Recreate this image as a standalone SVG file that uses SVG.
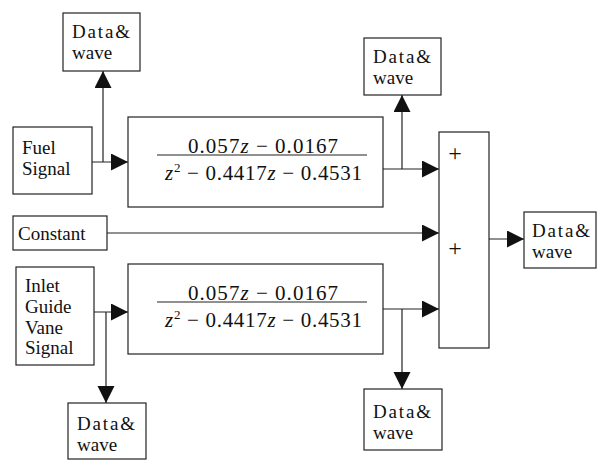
<svg xmlns="http://www.w3.org/2000/svg" width="598" height="460" viewBox="0 0 598 460">
<style>
.box{fill:#fff;stroke:#222;stroke-width:1.2}
.t{font-family:"Liberation Serif","Times New Roman",serif;font-size:19px;fill:#111}
.p{font-family:"Liberation Serif","Times New Roman",serif;font-size:24px;fill:#111;text-anchor:middle}
.f{font-family:"Liberation Serif","Times New Roman",serif;font-size:21px;fill:#111}
.z{font-style:italic}
.ln{fill:none;stroke:#222;stroke-width:1.2}
.fl{stroke:#222;stroke-width:1.2}
</style>
<defs>
<marker id="ah" markerUnits="userSpaceOnUse" markerWidth="18" markerHeight="18" refX="17" refY="8.5" orient="auto">
<path d="M0,0 L17,8.5 L0,17 Z" fill="#111"/>
</marker>
</defs>
<g id="connectors">
<path class="ln" d="M92,162 H128" marker-end="url(#ah)"/>
<path class="ln" d="M103,162 V71" marker-end="url(#ah)"/>
<path class="ln" d="M383,169 H439" marker-end="url(#ah)"/>
<path class="ln" d="M402,169 V95" marker-end="url(#ah)"/>
<path class="ln" d="M107,233 H439" marker-end="url(#ah)"/>
<path class="ln" d="M94,312 H128" marker-end="url(#ah)"/>
<path class="ln" d="M106,312 V403" marker-end="url(#ah)"/>
<path class="ln" d="M383,309 H439" marker-end="url(#ah)"/>
<path class="ln" d="M402,309 V389" marker-end="url(#ah)"/>
<path class="ln" d="M489,239 H524" marker-end="url(#ah)"/>
</g>
<g id="dw1">
<rect class="box" x="63" y="13" width="77" height="58"/>
<text class="t" x="72" y="38" textLength="58" lengthAdjust="spacing">Data&amp;</text>
<text class="t" x="72" y="59">wave</text>
</g>
<g id="fuel">
<rect class="box" x="13" y="127" width="79" height="67"/>
<text class="t" x="22" y="154">Fuel</text>
<text class="t" x="22" y="175">Signal</text>
</g>
<g id="tf1">
<rect class="box" x="128" y="117" width="255" height="90"/>
<text class="f" x="188" y="153" textLength="150" lengthAdjust="spacing">0.057<tspan class="z">z</tspan> − 0.0167</text>
<line class="fl" x1="157" y1="155" x2="367" y2="155"/>
<text class="f" x="165" y="180" textLength="197" lengthAdjust="spacing"><tspan class="z">z</tspan><tspan font-size="13" dy="-8">2</tspan><tspan dy="8"> − 0.4417</tspan><tspan class="z">z</tspan> − 0.4531</text>
</g>
<g id="dw2">
<rect class="box" x="364" y="38" width="77" height="57"/>
<text class="t" x="373" y="63" textLength="58" lengthAdjust="spacing">Data&amp;</text>
<text class="t" x="373" y="84">wave</text>
</g>
<g id="constant">
<rect class="box" x="13" y="216" width="94" height="34"/>
<text class="t" x="18" y="240">Constant</text>
</g>
<g id="sum">
<rect class="box" x="439" y="132" width="50" height="216"/>
<text class="p" x="455" y="161">+</text>
<text class="p" x="455" y="256">+</text>
</g>
<g id="dw3">
<rect class="box" x="524" y="212" width="72" height="56"/>
<text class="t" x="532" y="237" textLength="58" lengthAdjust="spacing">Data&amp;</text>
<text class="t" x="532" y="258">wave</text>
</g>
<g id="igv">
<rect class="box" x="16" y="267" width="78" height="98"/>
<text class="t" x="25" y="292">Inlet</text>
<text class="t" x="25" y="313">Guide</text>
<text class="t" x="25" y="334">Vane</text>
<text class="t" x="25" y="354">Signal</text>
</g>
<g id="tf2">
<rect class="box" x="128" y="264" width="255" height="90"/>
<text class="f" x="188" y="300" textLength="150" lengthAdjust="spacing">0.057<tspan class="z">z</tspan> − 0.0167</text>
<line class="fl" x1="157" y1="302" x2="367" y2="302"/>
<text class="f" x="165" y="327" textLength="197" lengthAdjust="spacing"><tspan class="z">z</tspan><tspan font-size="13" dy="-8">2</tspan><tspan dy="8"> − 0.4417</tspan><tspan class="z">z</tspan> − 0.4531</text>
</g>
<g id="dw4">
<rect class="box" x="68" y="403" width="78" height="56"/>
<text class="t" x="77" y="430" textLength="58" lengthAdjust="spacing">Data&amp;</text>
<text class="t" x="77" y="451">wave</text>
</g>
<g id="dw5">
<rect class="box" x="364" y="389" width="78" height="61"/>
<text class="t" x="373" y="418" textLength="58" lengthAdjust="spacing">Data&amp;</text>
<text class="t" x="373" y="439">wave</text>
</g>
</svg>
